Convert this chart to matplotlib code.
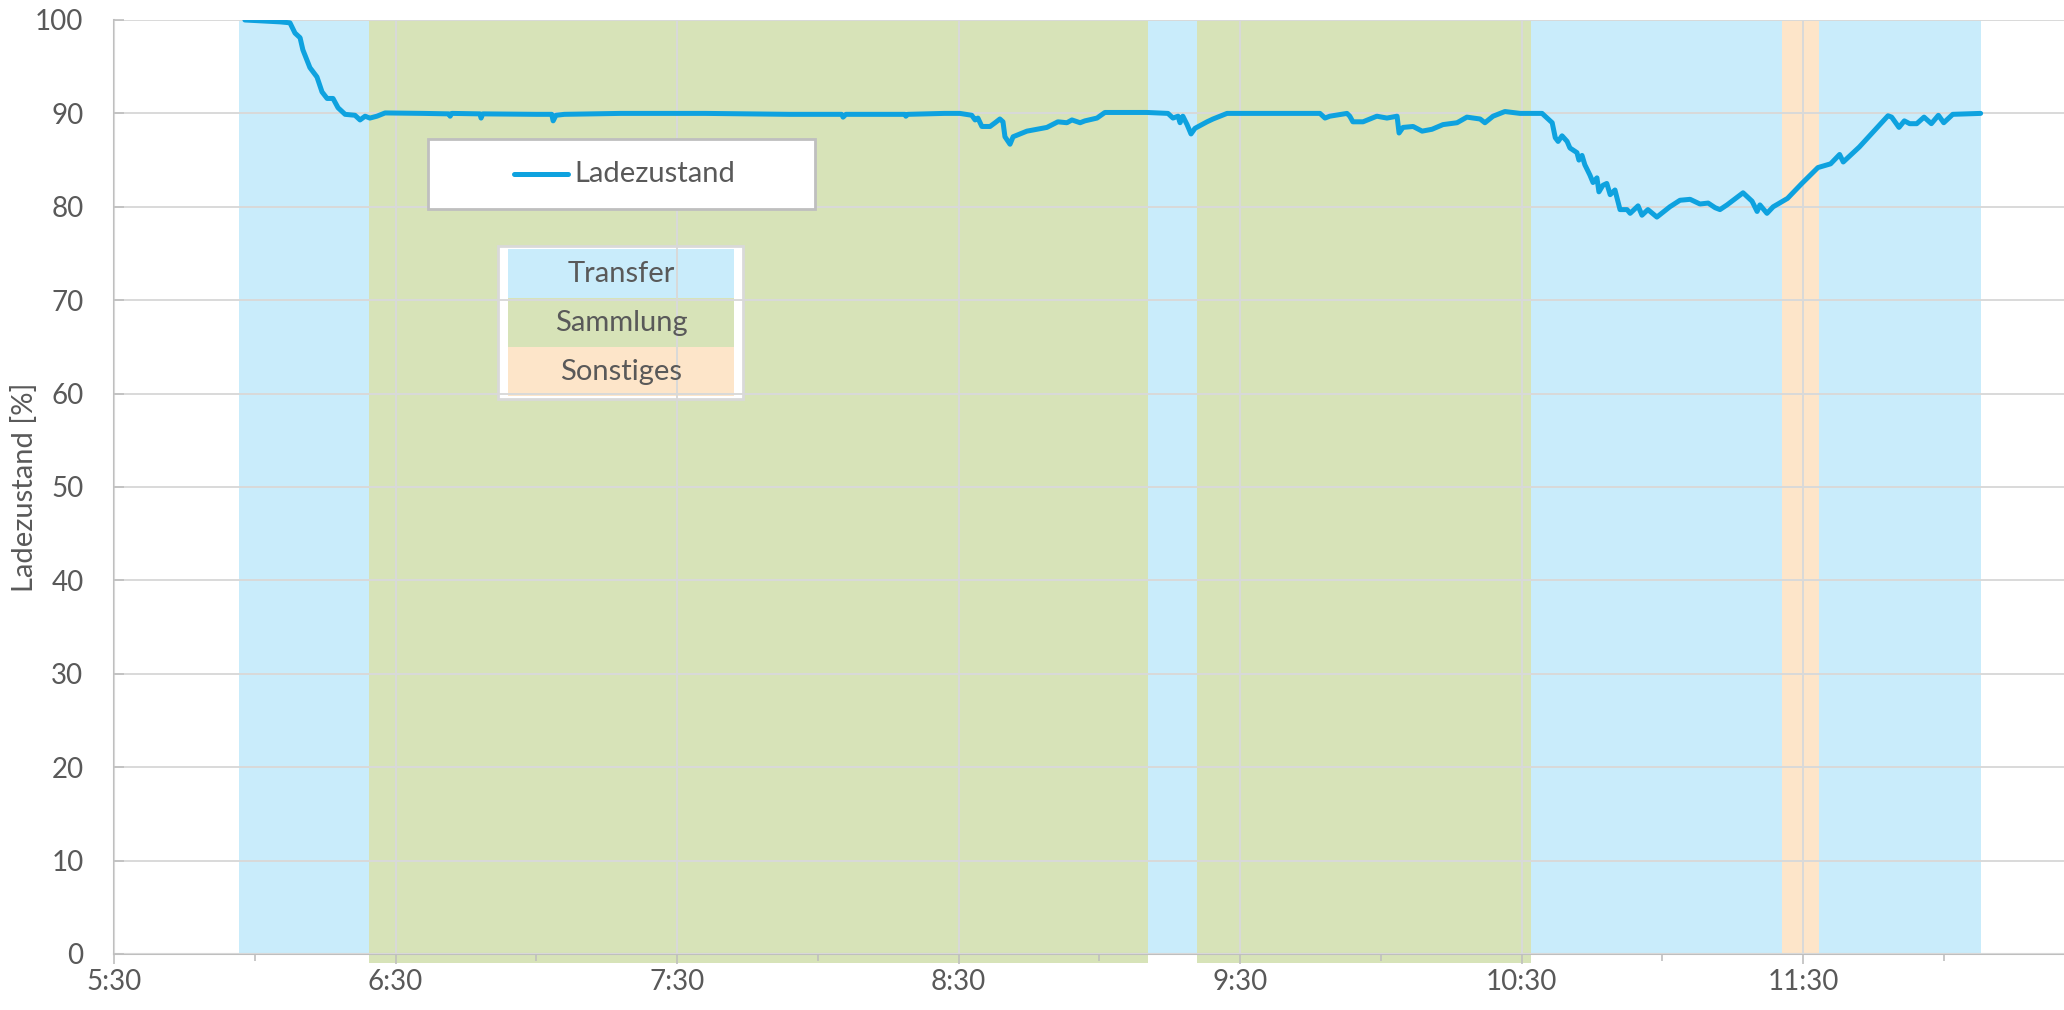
import matplotlib
matplotlib.use("Agg")
import matplotlib.pyplot as plt
from matplotlib.patches import Rectangle
from matplotlib.lines import Line2D
from matplotlib.ticker import FixedLocator, FuncFormatter

plt.rcParams['font.family'] = ['Lato', 'DejaVu Sans']

# Ladezustand ueber die Uhrzeit (Stunden dezimal)
zeit_h = [5.965, 6.090, 6.125, 6.143, 6.161, 6.171, 6.196, 6.221, 6.239, 6.257,
          6.278, 6.296, 6.321, 6.356, 6.374, 6.392, 6.409, 6.434, 6.463,
          6.600, 6.690, 6.694, 6.700, 6.800, 6.804, 6.810, 7.000, 7.055, 7.060,
          7.070, 7.100, 7.300, 7.600, 7.900, 8.085, 8.090, 8.100, 8.310, 8.313,
          8.320, 8.450, 8.505,
          8.547, 8.559, 8.569, 8.583, 8.612, 8.630, 8.647, 8.658, 8.665, 8.683,
          8.694, 8.743, 8.814, 8.853, 8.885, 8.903, 8.932, 8.949, 8.992, 9.020,
          9.170, 9.244, 9.262, 9.280, 9.287, 9.297, 9.312, 9.326, 9.340, 9.383,
          9.404, 9.454, 9.571,
          9.784, 9.802, 9.819, 9.880, 9.890, 9.901, 9.937, 9.986, 10.022, 10.058,
          10.065, 10.079, 10.115, 10.147, 10.182, 10.221, 10.271, 10.306, 10.353,
          10.370, 10.399, 10.441, 10.495, 10.566,
          10.573, 10.591, 10.609, 10.620, 10.630, 10.644, 10.662, 10.672, 10.697,
          10.704, 10.715, 10.725, 10.743, 10.754, 10.768, 10.775, 10.789, 10.803,
          10.815, 10.832, 10.850, 10.875, 10.886, 10.914, 10.928, 10.949, 10.981,
          11.027, 11.063, 11.099, 11.134, 11.163, 11.188, 11.205, 11.230, 11.287,
          11.319, 11.337, 11.347, 11.372, 11.394,
          11.445, 11.496, 11.553, 11.598, 11.630, 11.643, 11.700, 11.764, 11.802,
          11.815, 11.841, 11.860, 11.879, 11.904, 11.930, 11.956, 11.981, 12.000,
          12.032, 12.131]
soc = [100.0, 99.8, 99.7, 98.6, 98.1, 96.8, 94.9, 93.9, 92.3, 91.6,
       91.6, 90.6, 89.9, 89.8, 89.3, 89.7, 89.5, 89.7, 90.05,
       90.0, 89.95, 89.7, 90.0, 89.95, 89.5, 89.95, 89.9, 89.9, 89.2,
       89.8, 89.9, 90.0, 90.0, 89.9, 89.9, 89.6, 89.9, 89.9, 89.7,
       89.9, 90.0, 90.0,
       89.8, 89.3, 89.5, 88.6, 88.6, 89.0, 89.4, 89.1, 87.5, 86.7,
       87.5, 88.1, 88.5, 89.1, 89.0, 89.3, 89.0, 89.2, 89.5, 90.1,
       90.1, 90.0, 89.5, 89.7, 89.0, 89.7, 88.8, 87.8, 88.4, 89.1,
       89.4, 90.0, 90.0,
       90.0, 89.5, 89.7, 90.0, 89.7, 89.1, 89.1, 89.7, 89.5, 89.7,
       87.9, 88.5, 88.6, 88.1, 88.3, 88.8, 89.0, 89.6, 89.4,
       89.0, 89.7, 90.2, 90.0, 90.0,
       90.0, 89.5, 89.0, 87.4, 87.0, 87.6, 87.0, 86.3, 85.8,
       85.0, 85.5, 84.5, 83.4, 82.6, 83.1, 81.6, 82.3, 82.5,
       81.3, 81.8, 79.7, 79.7, 79.3, 80.1, 79.1, 79.7, 78.9,
       80.0, 80.7, 80.8, 80.3, 80.4, 79.9, 79.7, 80.2, 81.5,
       80.6, 79.5, 80.2, 79.3, 80.0,
       80.9, 82.5, 84.2, 84.6, 85.6, 84.8, 86.4, 88.5, 89.75,
       89.6, 88.5, 89.2, 88.9, 88.9, 89.6, 88.9, 89.8, 89.0,
       89.9, 90.0]

# Phasen (Beginn, Ende in Stunden)
phase_name = ['Transfer', 'Sammlung', 'Transfer', 'Sammlung', 'Transfer', 'Sonstiges', 'Transfer']
phase_start = [5.944, 6.406, 9.174, 9.347, 10.533, 11.425, 11.557]
phase_end = [6.406, 9.174, 9.347, 10.533, 11.425, 11.557, 12.132]

colors = {'Transfer': '#C9ECFB', 'Sammlung': '#D7E3B8', 'Sonstiges': '#FDE5C9'}
span_bottom = {'Transfer': 0.0, 'Sammlung': -1.0, 'Sonstiges': 0.0}
line_color = '#0EA2DF'
text_color = '#595959'
grid_color = '#D9D9D9'

W, H = 2064, 1010
fig = plt.figure(figsize=(W / 100, H / 100), dpi=100)
ax = fig.add_axes([114 / W, 1 - 954 / H, 1 - 114 / W, (954 - 20) / H])

for name, a, b in zip(phase_name, phase_start, phase_end):
    bot = span_bottom[name]
    ax.bar(a, 100 - bot, width=b - a, bottom=bot, align='edge',
           color=colors[name], zorder=1, clip_on=False, linewidth=0)

ax.plot(zeit_h, soc, color=line_color, lw=3.6, zorder=3,
        solid_joinstyle='round', solid_capstyle='round')

ax.set_xlim(5.5, 5.5 + 1950 / 281.5)
ax.set_ylim(0, 100)

ax.xaxis.set_major_locator(FixedLocator([5.5, 6.5, 7.5, 8.5, 9.5, 10.5, 11.5]))
ax.xaxis.set_minor_locator(FixedLocator([6, 7, 8, 9, 10, 11, 12]))
ax.xaxis.set_major_formatter(FuncFormatter(
    lambda v, p: f"{int(v)}:{int(round((v % 1) * 60)):02d}"))
ax.set_yticks(range(0, 101, 10))

ax.set_axisbelow(False)
ax.grid(True, which='major', color=grid_color, lw=1.4)

for s in ['top', 'right']:
    ax.spines[s].set_visible(False)
for s in ['left', 'bottom']:
    ax.spines[s].set_color('#BFBFBF')
    ax.spines[s].set_linewidth(1.5)

ax.tick_params(axis='x', which='major', direction='out', length=7, width=1.2,
               color='#BFBFBF', labelsize=20, labelcolor=text_color, pad=4)
ax.tick_params(axis='x', which='minor', direction='out', length=5, width=1.2,
               color='#BFBFBF')
ax.tick_params(axis='y', direction='in', length=7, width=1.2, color='#BFBFBF',
               labelsize=20, labelcolor=text_color, pad=22)

ax.set_ylabel('Ladezustand [%]', fontsize=21, color=text_color)
ax.yaxis.set_label_coords(-0.039, 0.5)

ft = fig.transFigure


def fx(px):
    return px / W


def fy(py):
    return 1 - py / H


# Legende Ladezustand
ax.add_artist(Rectangle((fx(428), fy(209)), 387 / W, 70 / H, transform=ft,
                        fc='white', ec='#BFBFBF', lw=2, zorder=6, clip_on=False))
ax.add_artist(Line2D([fx(514), fx(568)], [fy(174), fy(174)], transform=ft,
                     color=line_color, lw=3.6, zorder=7, clip_on=False,
                     solid_capstyle='round'))
fig.text(fx(574), fy(174), 'Ladezustand', fontsize=21, color=text_color,
         ha='left', va='center', zorder=8)

# Legende Phasen
ax.add_artist(Rectangle((fx(498), fy(399)), 245 / W, 153 / H, transform=ft,
                        fc='white', ec='#D9D9D9', lw=2, zorder=1.5, clip_on=False))
for i, name in enumerate(['Transfer', 'Sammlung', 'Sonstiges']):
    top = 249 + 49 * i
    ax.add_artist(Rectangle((fx(508), fy(top + 49)), 226 / W, 49 / H, transform=ft,
                            fc=colors[name], ec='none', zorder=1.6, clip_on=False))
    fig.text(fx(621), fy(top + 25), name, fontsize=21, color=text_color,
             ha='center', va='center', zorder=2)

fig.savefig('out.png', dpi=100)
